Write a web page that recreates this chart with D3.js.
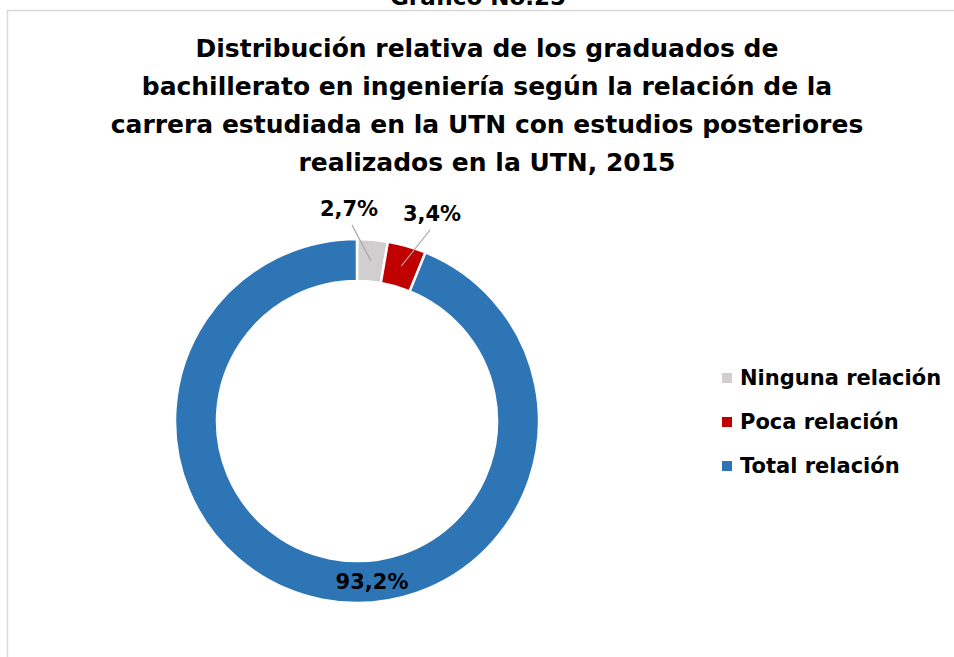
<!DOCTYPE html>
<html>
<head>
<meta charset="utf-8">
<script src="https://cdn.jsdelivr.net/npm/d3@7"></script>
<style>
  body { margin: 0; background: #fff; }
  svg { display: block; font-family: "DejaVu Sans", Verdana, sans-serif; }
</style>
</head>
<body>
<svg width="954" height="657"></svg>
<script>
// data
var categories = ["Ninguna relación", "Poca relación", "Total relación"];
var values = [2.7, 3.4, 93.2];
var valueLabels = ["2,7%", "3,4%", "93,2%"];
var colors = ["#D0CECE", "#C00000", "#2E75B6"];
var titleLines = [
  "Distribución relativa de los graduados de",
  "bachillerato en ingeniería según la relación de la",
  "carrera estudiada en la UTN con estudios posteriores",
  "realizados en la UTN, 2015"
];

var svg = d3.select("svg"),
    width = +svg.attr("width"),
    height = +svg.attr("height");

// chart frame
svg.append("path")
  .attr("d", "M7.5," + height + " V10.5 H" + width)
  .attr("fill", "none")
  .attr("stroke", "#D9D9D9")
  .attr("stroke-width", 1.5);

// heading, cut by the top edge as in the source
svg.append("text")
  .attr("x", 478).attr("y", 5)
  .attr("text-anchor", "middle")
  .attr("font-size", 23).attr("font-weight", "bold")
  .text("Gráfico No.25");

// title
svg.append("g").selectAll("text")
  .data(titleLines)
  .enter().append("text")
  .attr("x", 487)
  .attr("y", function(d, i) { return 57 + i * 38; })
  .attr("text-anchor", "middle")
  .attr("font-size", 25)
  .attr("font-weight", "bold")
  .attr("fill", "#000")
  .text(function(d) { return d; });

var cx = 357, cy = 421, rOuter = 182, rInner = 140;

var pie = d3.pie().sort(null).value(function(d) { return d; });
var arcs = pie(values);
var arc = d3.arc().innerRadius(rInner).outerRadius(rOuter);

var g = svg.append("g").attr("transform", "translate(" + cx + "," + cy + ")");

g.selectAll("path")
  .data(arcs)
  .enter().append("path")
  .attr("d", arc)
  .attr("fill", function(d, i) { return colors[i]; })
  .attr("stroke", "#fff")
  .attr("stroke-width", 2.5);

// data labels
var labelPos = [[-8, -205], [75, -200], [15, 168]];
var leaderEnd = [[-5, -196], [73, -191]];
var leaderR = (rInner + rOuter) / 2;

arcs.forEach(function(d, i) {
  var mid = (d.startAngle + d.endAngle) / 2;
  if (i < 2) {
    var px = Math.sin(mid) * leaderR, py = -Math.cos(mid) * leaderR;
    g.append("line")
      .attr("x1", leaderEnd[i][0]).attr("y1", leaderEnd[i][1])
      .attr("x2", px).attr("y2", py)
      .attr("stroke", "#A6A6A6")
      .attr("stroke-width", 1.2);
  }
  g.append("text")
    .attr("x", labelPos[i][0]).attr("y", labelPos[i][1])
    .attr("text-anchor", "middle")
    .attr("font-size", 21).attr("font-weight", "bold")
    .text(valueLabels[i]);
});

// legend
var legend = svg.append("g").selectAll("g")
  .data(categories)
  .enter().append("g")
  .attr("transform", function(d, i) { return "translate(722," + (378 + i * 44) + ")"; });

legend.append("rect")
  .attr("x", 0).attr("y", -5)
  .attr("width", 10).attr("height", 10)
  .attr("fill", function(d, i) { return colors[i]; });

legend.append("text")
  .attr("x", 18).attr("y", 7)
  .attr("font-size", 21).attr("font-weight", "bold")
  .text(function(d) { return d; });
</script>
</body>
</html>
